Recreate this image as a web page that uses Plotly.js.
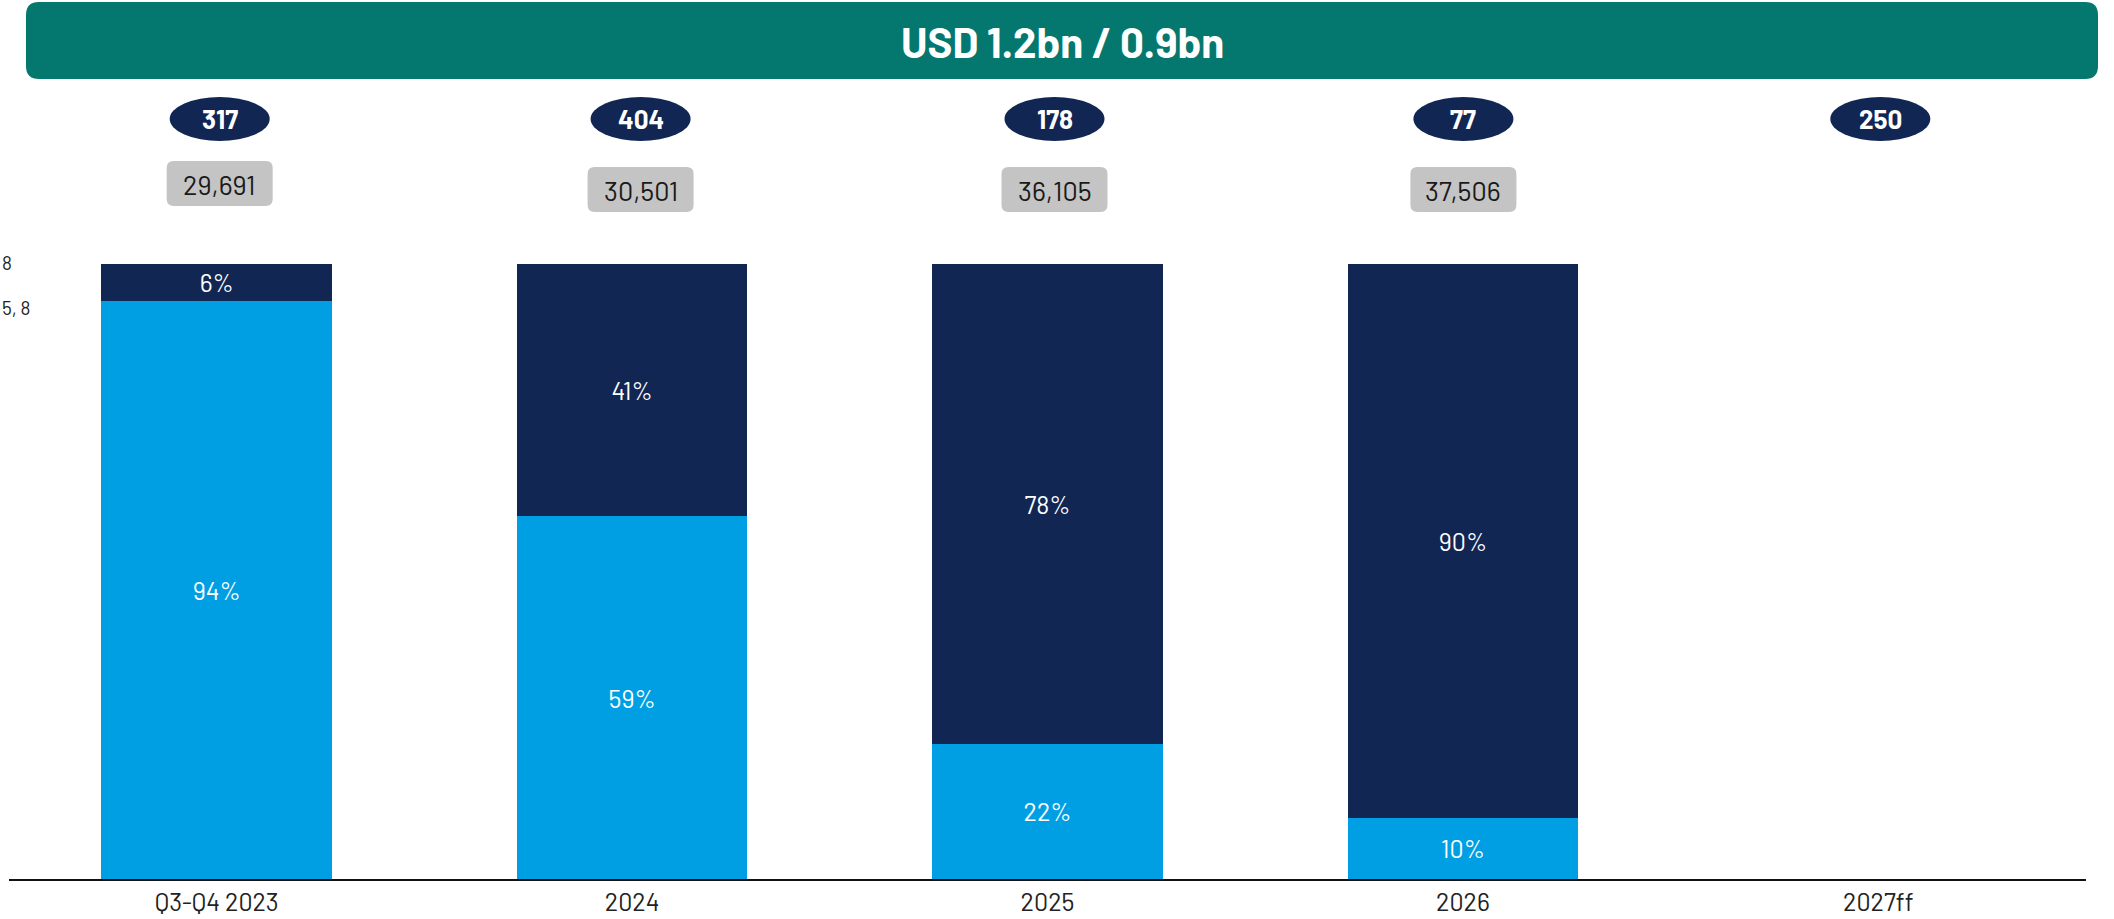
<!DOCTYPE html>
<html>
<head>
<meta charset="utf-8">
<script src="https://cdn.plot.ly/plotly-3.0.1.min.js"></script>
<style>
  html, body { margin: 0; padding: 0; background: #ffffff; }
  #chart { width: 2114px; height: 919px; }
</style>
</head>
<body>
<div id="chart"></div>
<script>
// ---------------- DATA ----------------
const categories    = ['Q3-Q4 2023', '2024', '2025', '2026', '2027ff'];
const shareLight    = [94, 59, 22, 10, null];   // light blue segment (%)
const shareDark     = [6, 41, 78, 90, null];    // dark navy segment (%)
const ellipseValues = [317, 404, 178, 77, 250];
const boxValues     = [29691, 30501, 36105, 37506, null];
const headerText    = 'USD 1.2bn / 0.9bn';
const clippedLabels = ['8', '5, 8'];

// ---------------- STYLE ----------------
const W = 2114, H = 919;
const M = { l: 9, r: 28, t: 264, b: 40 };
const plotW = W - M.l - M.r, plotH = H - M.t - M.b;
const NAVY = '#112653', BLUE = '#009FE3', TEAL = '#04786F', GREY = '#C4C4C4';
const FONT = 'Barlow, "Roboto Condensed", "Liberation Sans Narrow", "DejaVu Sans Condensed", Roboto, sans-serif';
const FONT_B = 'Barlow, Roboto, "Open Sans", sans-serif';

// pixel -> paper helpers (for decorations outside the plot area)
const px2x = p => (p - M.l) / plotW;
const px2y = p => (H - M.b - p) / plotH;
// category index -> paper x (range [-0.5, n-0.5])
const n = categories.length;
const cat2x = i => (i + 0.5) / n;
// small horizontal nudges of the badges relative to the category centre (px)
const badgeNudge = [3, 8.5, 7, 0.5, 2];
const boxShift = [-6, 0, 0, 0, 0];

function roundRect(x0, y0, x1, y1, r) {
  const X = px2x, Y = px2y;
  return `M ${X(x0 + r)} ${Y(y0)} L ${X(x1 - r)} ${Y(y0)} ` +
         `Q ${X(x1)} ${Y(y0)} ${X(x1)} ${Y(y0 + r)} L ${X(x1)} ${Y(y1 - r)} ` +
         `Q ${X(x1)} ${Y(y1)} ${X(x1 - r)} ${Y(y1)} L ${X(x0 + r)} ${Y(y1)} ` +
         `Q ${X(x0)} ${Y(y1)} ${X(x0)} ${Y(y1 - r)} L ${X(x0)} ${Y(y0 + r)} ` +
         `Q ${X(x0)} ${Y(y0)} ${X(x0 + r)} ${Y(y0)} Z`;
}

const traces = [
  {
    type: 'bar', x: categories, y: shareLight, name: 'light',
    marker: { color: BLUE, line: { width: 0 } },
    text: shareLight.map(v => v == null ? '' : v + '%'),
    textposition: 'inside', insidetextanchor: 'middle', textangle: 0,
    textfont: { color: '#ffffff', size: 25, family: FONT },
    hoverinfo: 'skip'
  },
  {
    type: 'bar', x: categories, y: shareDark, name: 'dark',
    marker: { color: NAVY, line: { width: 0 } },
    text: shareDark.map(v => v == null ? '' : v + '%'),
    textposition: 'inside', insidetextanchor: 'middle', textangle: 0,
    textfont: { color: '#ffffff', size: 25, family: FONT },
    hoverinfo: 'skip'
  }
];

const shapes = [];
const annotations = [];

// header banner
shapes.push({ type: 'path', xref: 'paper', yref: 'paper', path: roundRect(26, 2, 2098, 79, 13),
  fillcolor: TEAL, line: { width: 0 }, layer: 'above' });
annotations.push({ xref: 'paper', yref: 'paper', x: px2x(1062), y: px2y(41),
  text: '<b>' + headerText + '</b>', showarrow: false, xanchor: 'center', yanchor: 'middle',
  font: { color: '#ffffff', size: 42, family: FONT_B } });

// ellipses & grey boxes above bars
ellipseValues.forEach((v, i) => {
  const cx = M.l + cat2x(i) * plotW + badgeNudge[i];
  shapes.push({ type: 'circle', xref: 'paper', yref: 'paper',
    x0: px2x(cx - 50), x1: px2x(cx + 50), y0: px2y(141), y1: px2y(97),
    fillcolor: NAVY, line: { width: 0 }, layer: 'above' });
  annotations.push({ xref: 'paper', yref: 'paper', x: px2x(cx), y: px2y(119),
    text: '<b>' + v + '</b>', showarrow: false, xanchor: 'center', yanchor: 'middle',
    font: { color: '#ffffff', size: 26, family: FONT_B } });
});
boxValues.forEach((v, i) => {
  if (v == null) return;
  const cx = M.l + cat2x(i) * plotW + badgeNudge[i];
  const top = 167 + boxShift[i], bot = 212 + boxShift[i];
  shapes.push({ type: 'path', xref: 'paper', yref: 'paper',
    path: roundRect(cx - 53, top, cx + 53, bot, 7),
    fillcolor: GREY, line: { width: 0 }, layer: 'above' });
  annotations.push({ xref: 'paper', yref: 'paper', x: px2x(cx), y: px2y((top + bot) / 2),
    text: v.toLocaleString('en-US'), showarrow: false, xanchor: 'center', yanchor: 'middle',
    font: { color: '#1a1a1a', size: 27, family: FONT } });
});

// clipped remnants at the far left
annotations.push({ xref: 'paper', yref: 'paper', x: px2x(0), y: px2y(263), text: clippedLabels[0],
  showarrow: false, xanchor: 'left', yanchor: 'middle', font: { color: '#222', size: 19, family: FONT } });
annotations.push({ xref: 'paper', yref: 'paper', x: px2x(0), y: px2y(307), text: clippedLabels[1],
  showarrow: false, xanchor: 'left', yanchor: 'middle', font: { color: '#222', size: 19, family: FONT } });

const layout = {
  width: W, height: H,
  margin: M,
  paper_bgcolor: '#ffffff', plot_bgcolor: '#ffffff',
  barmode: 'stack', bargap: 0.445,
  showlegend: false,
  xaxis: {
    type: 'category', range: [-0.5, n - 0.5], fixedrange: true,
    showline: true, linecolor: '#111111', linewidth: 2,
    showgrid: false, zeroline: false, ticks: '',
    tickfont: { size: 25, color: '#222', family: FONT }
  },
  yaxis: { range: [0, 100], visible: false, fixedrange: true },
  shapes: shapes,
  annotations: annotations,
  font: { family: FONT }
};

Plotly.newPlot('chart', traces, layout, { displayModeBar: false, staticPlot: true });
</script>
</body>
</html>
